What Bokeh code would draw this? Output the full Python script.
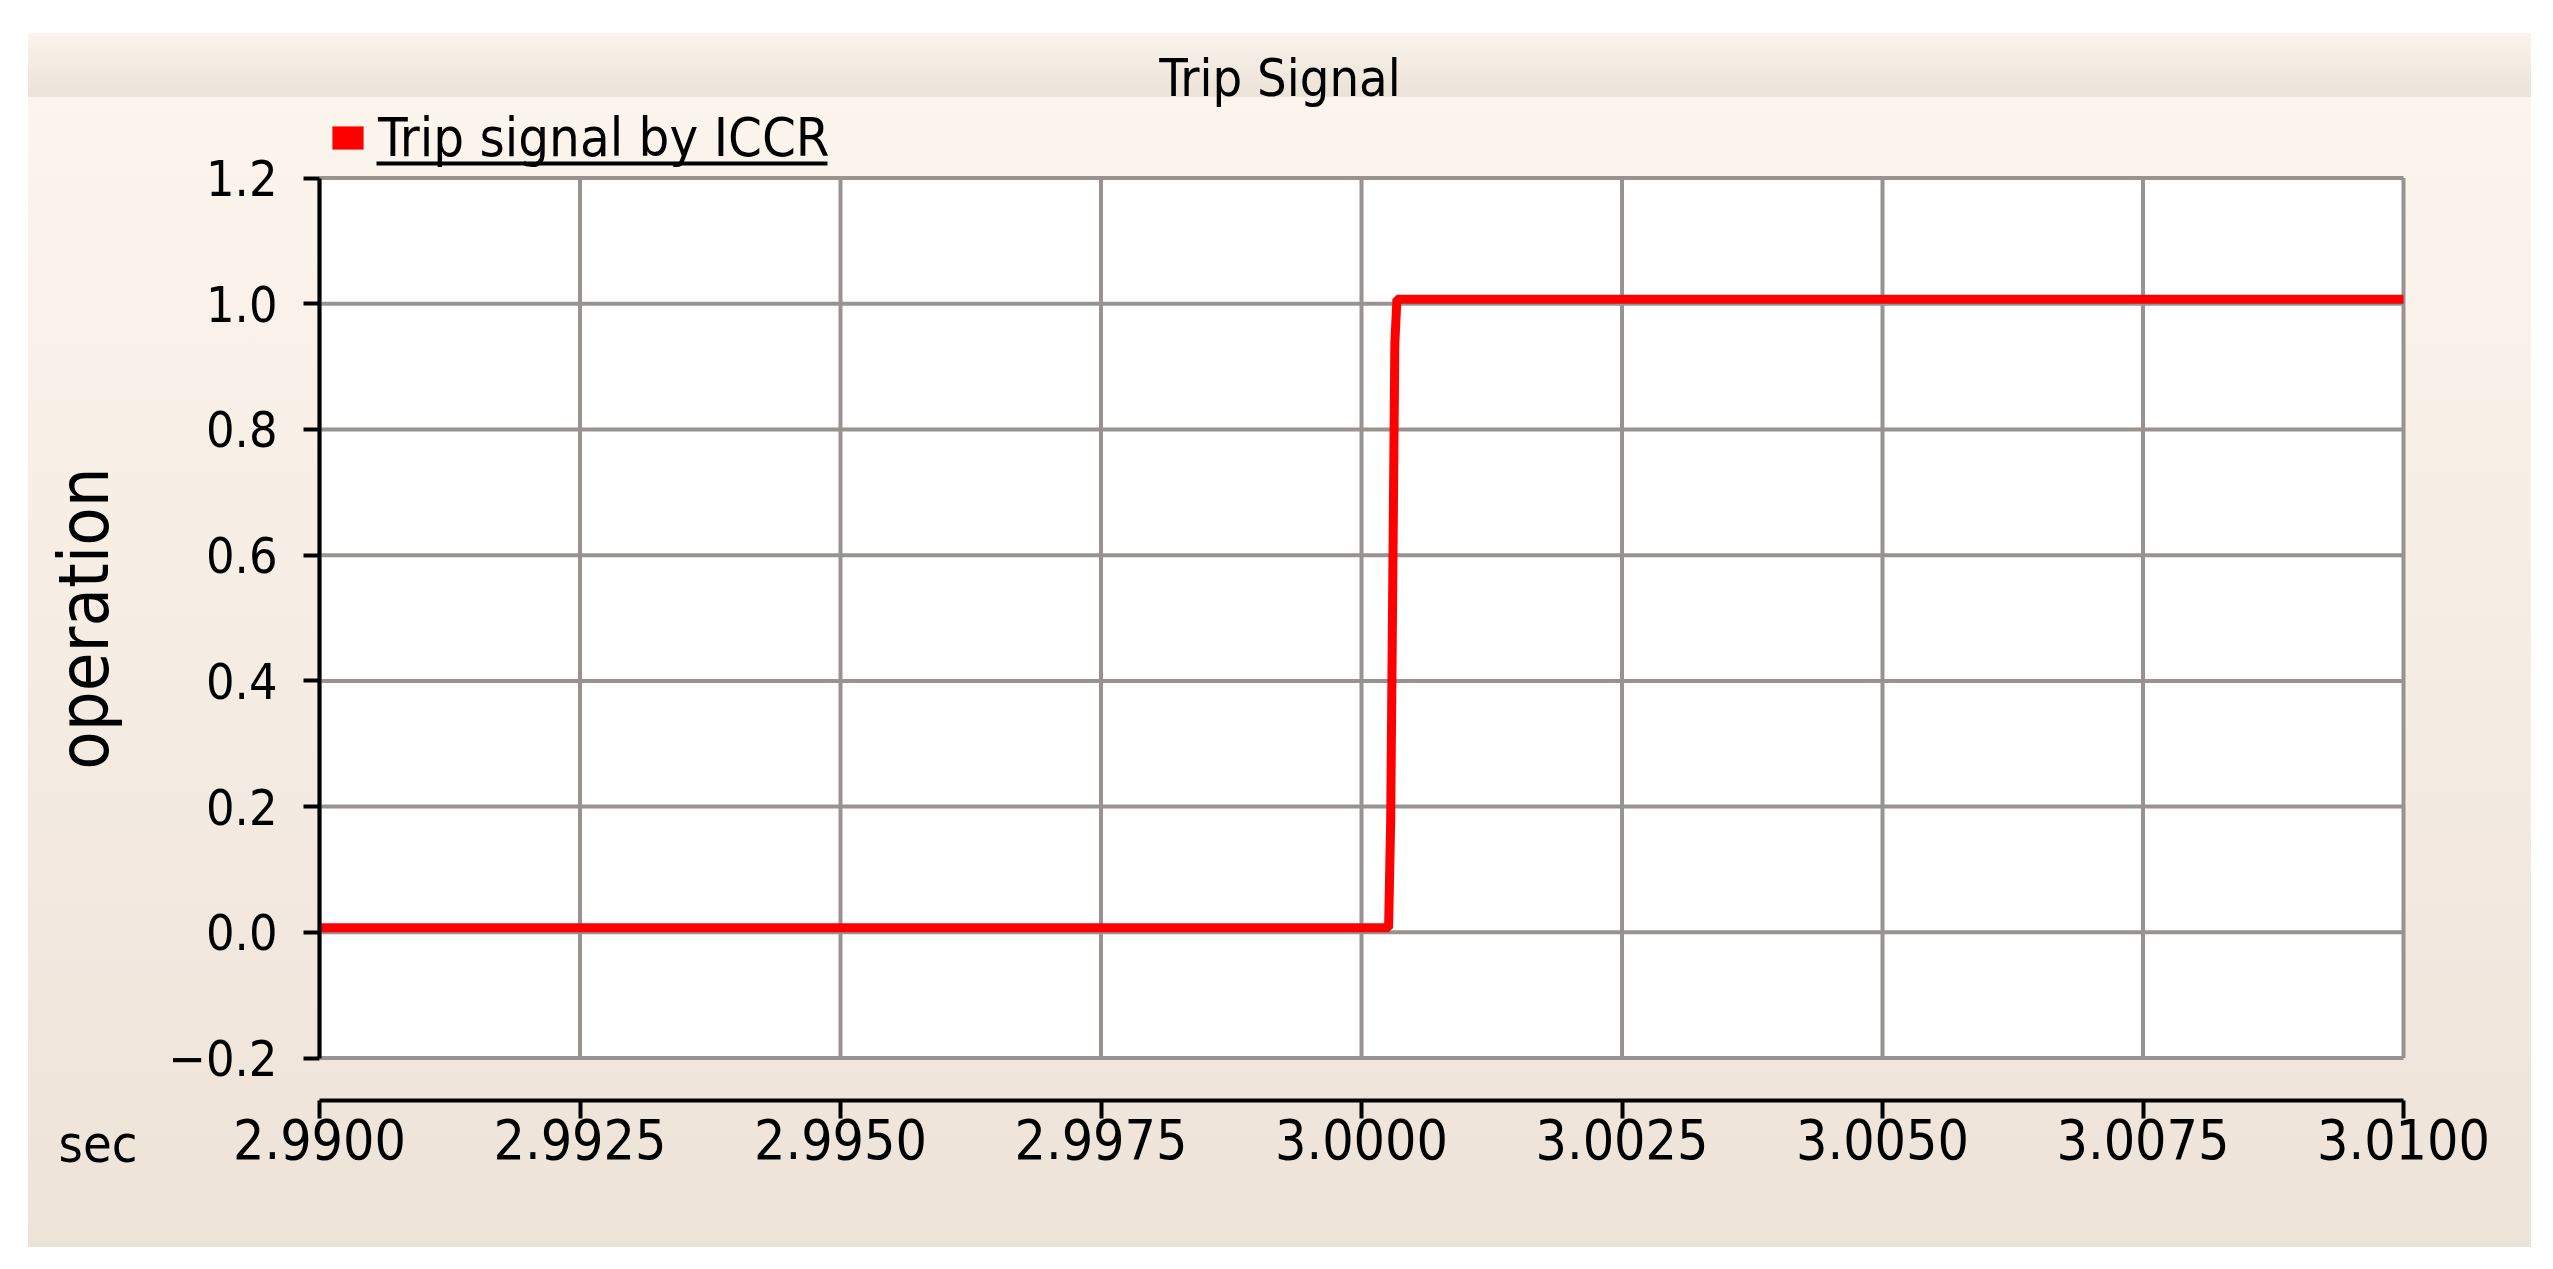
from bokeh.plotting import figure
from bokeh.models import (Range1d, FixedTicker, Label, Legend, LegendItem,
                          BoxAnnotation, Spacer)
from bokeh.layouts import column, row
from bokeh.embed import file_html
from bokeh.resources import INLINE

# ---------------- data ----------------
title_text = "Trip Signal"
series_name = "Trip signal by ICCR"
x_label = "sec"
y_label = "operation"

time_s = [2.9900, 3.00026, 3.00028, 3.00030, 3.00032, 3.00034, 3.0100]
trip = [0.0, 0.0, 0.17, 0.55, 0.93, 1.0, 1.0]

x_ticks = [2.99, 2.9925, 2.995, 2.9975, 3.0, 3.0025, 3.005, 3.0075, 3.01]
x_tick_labels = ["2.9900", "2.9925", "2.9950", "2.9975", "3.0000",
                 "3.0025", "3.0050", "3.0075", "3.0100"]
y_ticks = [-0.2, 0.0, 0.2, 0.4, 0.6, 0.8, 1.0, 1.2]
y_tick_labels = ["\u22120.2", "0.0", "0.2", "0.4", "0.6", "0.8", "1.0", "1.2"]

# ---------------- style / geometry ----------------
FONT = "'DejaVu Sans Condensed', 'DejaVu Sans'"
GRID = "#989390"
W = 2503
H = 1214
BAND = 64                # title band height
PX_X = 104200.0          # px per second
PX_Y = 628.6             # px per unit
X0_PX = 291.0            # figure px of first x tick
Y1_PX = 144.5            # figure px (from top) of last y tick


def fx(px):
    """figure pixel (from left) -> data x"""
    return x_ticks[0] + (px - X0_PX) / PX_X


def fy(py):
    """figure pixel (from top) -> data y"""
    return y_ticks[-1] - (py - Y1_PX) / PX_Y


shift = 4.5 / PX_Y

p = figure(width=W, height=H, x_range=Range1d(fx(0), fx(W)), y_range=Range1d(fy(H), fy(0)),
           output_backend="svg", toolbar_location=None, title=None, min_border=0)
p.extra_y_ranges = {"sig": Range1d(fy(H) - shift, fy(0) - shift)}
p.background_fill_alpha = 0
p.border_fill_alpha = 0
p.outline_line_color = None
p.styles = {"background": "linear-gradient(to bottom, #FAF4EC 0px, #EBE2D8 %dpx, "
                          "#FCF5ED %dpx, #EEE3D9 100%%)" % (BAND, BAND)}
p.xgrid.visible = False
p.ygrid.visible = False

# title
p.add_layout(Label(x=fx(W / 2), y=fy(44), text=title_text, text_align="center",
                   text_baseline="alphabetic", text_font=FONT,
                   text_font_size="52px", text_color="black"))

# white plotting area
p.quad(left=[x_ticks[0]], right=[x_ticks[-1]], bottom=[y_ticks[0]], top=[y_ticks[-1]],
       fill_color="white", line_color=None, level="image")
# grid lines from ticks
p.segment(x0=x_ticks, y0=[y_ticks[0]] * len(x_ticks), x1=x_ticks,
          y1=[y_ticks[-1]] * len(x_ticks), line_color=GRID, line_width=4, level="underlay")
p.segment(x0=[x_ticks[0]] * len(y_ticks), y0=y_ticks, x1=[x_ticks[-1]] * len(y_ticks),
          y1=y_ticks, line_color=GRID, line_width=4, level="underlay")

ln = p.line(time_s, trip, line_color="#FF0000", line_width=9, y_range_name="sig")
# zero-area quad used only as the legend swatch
sq = p.quad(left=[time_s[0]], right=[time_s[0]], bottom=[trip[0]], top=[trip[0]],
            fill_color="#FF0000", line_color=None)

# axes (fixed inside the frame)
xa = p.xaxis[0]
xa.fixed_location = fy(1067)
xa.ticker = FixedTicker(ticks=x_ticks)
xa.major_label_overrides = dict(zip(x_ticks, x_tick_labels))
xa.bounds = (x_ticks[0], x_ticks[-1])
xa.axis_line_width = 4
xa.axis_line_color = "black"
xa.major_tick_line_width = 4
xa.major_tick_line_color = "black"
xa.major_tick_out = 18
xa.major_tick_in = 0
xa.minor_tick_line_color = None
xa.major_label_text_font = FONT
xa.major_label_text_font_size = "55px"
xa.major_label_text_color = "black"
xa.major_label_standoff = 0

ya = p.yaxis[0]
ya.fixed_location = x_ticks[0]
ya.ticker = FixedTicker(ticks=y_ticks)
ya.major_label_overrides = dict(zip(y_ticks, y_tick_labels))
ya.bounds = (y_ticks[0], y_ticks[-1])
ya.axis_line_width = 4
ya.axis_line_color = "black"
ya.major_tick_line_width = 4
ya.major_tick_line_color = "black"
ya.major_tick_out = 16
ya.major_tick_in = 0
ya.minor_tick_line_color = None
ya.major_label_text_font = FONT
ya.major_label_text_font_size = "50px"
ya.major_label_text_color = "black"
ya.major_label_standoff = 26
ya.axis_label = y_label
ya.axis_label_text_font = FONT
ya.axis_label_text_font_size = "70px"
ya.axis_label_text_font_style = "normal"
ya.axis_label_text_color = "black"
ya.axis_label_standoff = 40

# "sec" label at the left of the x tick labels
p.add_layout(Label(x=fx(30), y=fy(1110), text=x_label, text_align="left",
                   text_baseline="middle", text_font=FONT, text_font_size="52px",
                   text_color="black"))

# legend above the plotting area
legend = Legend(items=[LegendItem(label=series_name, renderers=[sq])],
                location=(300, 1078), orientation="horizontal",
                glyph_width=39, glyph_height=29, label_standoff=11,
                padding=0, margin=0, spacing=0,
                border_line_color=None, background_fill_alpha=0,
                label_text_font=FONT, label_text_font_size="54px",
                label_text_color="black", label_height=29)
p.add_layout(legend, "center")
# legend underline
p.add_layout(BoxAnnotation(left=fx(348), right=fx(799), bottom=fy(132), top=fy(128),
                           fill_color="black", fill_alpha=1, line_color=None))

layout = column(Spacer(height=33), row(Spacer(width=28), p, spacing=0), spacing=0)

open("out.html", "w").write(file_html(layout, INLINE))
